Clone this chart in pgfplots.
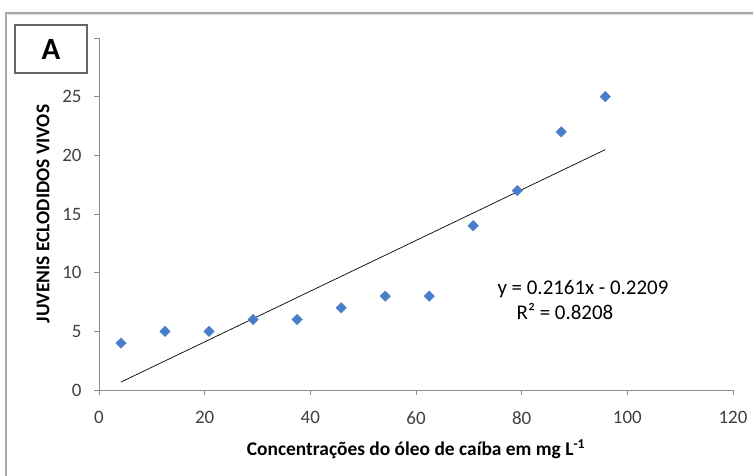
\documentclass[border=0pt]{standalone}
\usepackage{fontspec}
\setmainfont{Carlito}
\usepackage{pgfplots}
\pgfplotsset{compat=1.18}
\definecolor{xlblue}{HTML}{4A7EC9}
\definecolor{axgray}{HTML}{8C8C8C}
\definecolor{txtgray}{HTML}{404040}

\begin{document}
\begin{tikzpicture}
\useasboundingbox (-99bp,-86bp) rectangle (654bp,390bp);
% outer chart frame (cropped at right and bottom)
\draw[gray!70, line width=1.2bp] (-93bp,-90bp) -- (-93bp,377bp) -- (660bp,377bp);
\draw[gray!25, line width=1bp] (-91bp,375bp) -- (660bp,375bp);
\begin{axis}[
    at={(0,0)}, anchor=origin,
    scale only axis,
    width=634bp, height=352bp,
    xmin=0, xmax=120, ymin=0, ymax=30,
    xtick={0,20,...,120},
    ytick={0,5,...,30},
    yticklabels={0,5,10,15,20,25,},
    axis lines*=left,
    axis line style={axgray, line width=0.9bp, -},
    tick style={axgray, line width=0.9bp},
    tick align=outside,
    major tick length=5bp,
    tick label style={font=\fontsize{19}{21}\selectfont, text=txtgray},
    xticklabel style={yshift=-13bp},
    yticklabel style={xshift=-9bp},
    /pgf/number format/assume math mode=true,
    xlabel={\textbf{Concentrações do óleo de caíba em mg L\textsuperscript{-1}}},
    ylabel={\textbf{JUVENIS ECLODIDOS VIVOS}},
    label style={font=\fontsize{19.5}{21}\selectfont},
    xlabel style={yshift=-8bp},
    ylabel style={yshift=6bp},
    clip=false,
]
\addplot[black, line width=0.7bp] coordinates {(4.17,0.680) (95.83,20.488)};
\addplot[only marks, mark=square*, mark size=3.7bp,
    mark options={rotate=45, fill=xlblue, draw=xlblue}] coordinates {
    (4.17,4) (12.5,5) (20.83,5) (29.17,6) (37.5,6) (45.83,7)
    (54.17,8) (62.5,8) (70.83,14) (79.17,17) (87.5,22) (95.83,25)
};
\node[font=\fontsize{21}{23}\selectfont] at (axis cs:91.6,8.62) {y = 0.2161x - 0.2209};
\node[font=\fontsize{21}{23}\selectfont] at (axis cs:88.2,6.66) {R² = 0.8208};
\end{axis}
\draw[gray!80!black, line width=1.2bp, fill=white] (-84bp,317bp) rectangle (-12bp,365bp);
\node[font=\fontsize{31}{33}\selectfont\bfseries] at (-48bp,341bp) {A};
\end{tikzpicture}
\end{document}
